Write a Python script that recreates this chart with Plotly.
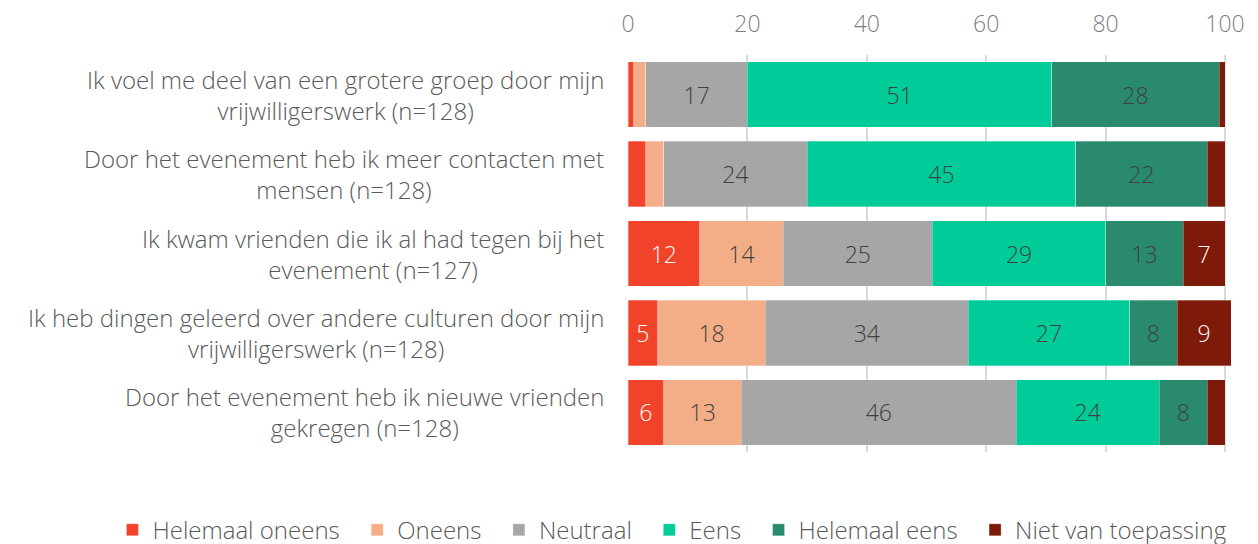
import plotly.graph_objects as go

categories = [
    "Ik voel me deel van een grotere groep door mijn<br>vrijwilligerswerk (n=128)",
    "Door het evenement heb ik meer contacten met<br>mensen (n=128)",
    "Ik kwam vrienden die ik al had tegen bij het<br>evenement (n=127)",
    "Ik heb dingen geleerd over andere culturen door mijn<br>vrijwilligerswerk (n=128)",
    "Door het evenement heb ik nieuwe vrienden<br>gekregen (n=128)",
]
series = ["Helemaal oneens", "Oneens", "Neutraal", "Eens", "Helemaal eens", "Niet van toepassing"]
values = {
    "Helemaal oneens": [1, 3, 12, 5, 6],
    "Oneens": [2, 3, 14, 18, 13],
    "Neutraal": [17, 24, 25, 34, 46],
    "Eens": [51, 45, 29, 27, 24],
    "Helemaal eens": [28, 22, 13, 8, 8],
    "Niet van toepassing": [1, 3, 7, 9, 3],
}
colors = ["#F0432A", "#F3AE88", "#A6A6A6", "#00CC99", "#2A8A6E", "#7E1A0A"]
text_colors = ["white", "#404040", "#404040", "#404040", "#404040", "white"]
xticks = [0, 20, 40, 60, 80, 100]

FONT = "Open Sans"
PAD = "\u00a0" * 2  # a bit more room between legend entries

fig = go.Figure()
for name, col, tcol in zip(series, colors, text_colors):
    vals = values[name]
    fig.add_trace(go.Bar(
        y=categories, x=vals, name=name + PAD, orientation="h",
        marker=dict(color=col, line=dict(color="rgba(255,255,255,0.5)", width=0.6)),
        text=[str(v) if v >= 5 else "" for v in vals],
        textposition="inside", insidetextanchor="middle", textangle=0,
        constraintext="none",
        textfont=dict(color=tcol, size=23, family=FONT, weight=300),
        hoverinfo="x+name",
    ))

# category labels: lines centred, the block right-aligned against the plot
for c in categories:
    fig.add_annotation(
        xref="paper", x=0, xanchor="right", xshift=-22,
        yref="y", y=c, text=c, showarrow=False, align="center",
        font=dict(size=24, color="#595959", family=FONT, weight=300),
    )

fig.update_layout(
    barmode="stack", bargap=0.174,
    width=1250, height=536,
    margin=dict(l=620, r=27, t=47, b=92, autoexpand=False),
    paper_bgcolor="white", plot_bgcolor="white",
    font=dict(family=FONT, size=24, color="#595959", weight=300),
    xaxis=dict(side="top", range=[0, 101], tickvals=xticks,
               ticks="outside", ticklen=13, tickcolor="rgba(0,0,0,0)",
               showgrid=True, gridcolor="#D9D9D9", gridwidth=2, zeroline=False,
               showline=False, tickfont=dict(size=23, color="#7F7F7F", weight=300)),
    yaxis=dict(autorange="reversed", showticklabels=False, showgrid=False),
    legend=dict(orientation="h", xref="paper", x=-0.855, xanchor="left",
                yref="paper", y=-0.197, yanchor="middle",
                font=dict(size=24, color="#595959", weight=300), itemwidth=30,
                traceorder="normal"),
)

fig.write_html("out.html")
